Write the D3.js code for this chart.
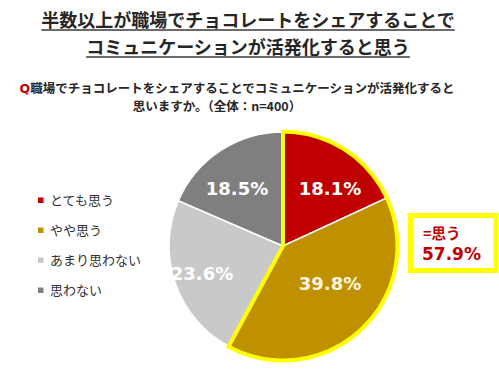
<!DOCTYPE html>
<html><head><meta charset="utf-8">
<script src="https://cdn.jsdelivr.net/npm/d3@7"></script>
<style>
html,body{margin:0;padding:0;background:#fff;}
svg{display:block;}
</style>
</head><body>
<svg id="c" width="499" height="380"></svg>
<script>
const titleLines = ["半数以上が職場でチョコレートをシェアすることで", "コミュニケーションが活発化すると思う"];
const questionLines = ["職場でチョコレートをシェアすることでコミュニケーションが活発化すると", "思いますか。（全体：n=400）"];
const categories = ["とても思う", "やや思う", "あまり思わない", "思わない"];
const values = [18.1, 39.8, 23.6, 18.5];
const colors = ["#c00000", "#bf9000", "#c9c9c9", "#7f7f7f"];
const labelColors = ["#ffffff", "#fff5e0", "#ffffff", "#ffffff"];
const highlightLabel = "=思う";
const highlightValue = "57.9%";

const svg = d3.select("#c");
const jp = "'Noto Sans CJK JP', 'Noto Sans', sans-serif";
const num = "'DejaVu Sans', Verdana, sans-serif";

// Title
const tBase = [27, 54];
titleLines.forEach((t, i) => {
  const tx = svg.append("text").attr("x", 248).attr("y", tBase[i])
    .attr("text-anchor", "middle").attr("font-family", jp).attr("font-weight", 700)
    .attr("font-size", 18).attr("fill", "#262626").text(t);
  const w = tx.node().getComputedTextLength();
  svg.append("line").attr("x1", 248 - w / 2).attr("x2", 248 + w / 2)
    .attr("y1", tBase[i] + 3).attr("y2", tBase[i] + 3)
    .attr("stroke", "#3a3a3a").attr("stroke-width", 1.6);
});

// Question
const q1 = svg.append("text").attr("x", 237).attr("y", 93).attr("text-anchor", "middle")
  .attr("font-family", jp).attr("font-weight", 700).attr("font-size", 12.5).attr("fill", "#262626");
q1.append("tspan").attr("fill", "#c00000").attr("font-family", num).text("Q");
q1.append("tspan").text(questionLines[0]);
svg.append("text").attr("x", 217).attr("y", 111).attr("text-anchor", "middle")
  .attr("font-family", jp).attr("font-weight", 700).attr("font-size", 12.5).attr("fill", "#262626")
  .text(questionLines[1]);

// Legend
const legY = d3.scalePoint().domain(categories).range([200, 290]);
const leg = svg.append("g");
categories.forEach((c, i) => {
  leg.append("rect").attr("x", 38).attr("y", legY(c) - 2.5).attr("width", 5.5).attr("height", 5.5).attr("fill", colors[i]);
  leg.append("text").attr("x", 50).attr("y", legY(c) + 5).attr("font-family", jp)
    .attr("font-size", 13).attr("fill", "#333").text(c);
});

// Pie
const cx = 283, cy = 246, r = 114;
const g = svg.append("g").attr("transform", `translate(${cx},${cy})`);
const pie = d3.pie().sort(null).value(d => d)(values);
const arc = d3.arc().innerRadius(0).outerRadius(r);
g.selectAll("path.slice").data(pie).enter().append("path").attr("class", "slice")
  .attr("d", arc).attr("fill", (d, i) => colors[i]).attr("stroke", "#fff").attr("stroke-width", 1.5);

// highlight outline around first two slices
const hiEnd = pie[1].endAngle;
g.append("path").attr("d", d3.arc().innerRadius(0).outerRadius(r + 0.5)({startAngle: 0, endAngle: hiEnd}))
  .attr("fill", "none").attr("stroke", "#ffff00").attr("stroke-width", 4).attr("stroke-linejoin", "miter");

// slice labels
const lblPos = [[47, -58], [47, 37], [-81, 27], [-46, -58]];
g.selectAll("text.lbl").data(pie).enter().append("text").attr("class", "lbl")
  .attr("x", (d, i) => lblPos[i][0]).attr("y", (d, i) => lblPos[i][1] + 6.5)
  .attr("text-anchor", "middle").attr("font-family", num).attr("font-weight", 700)
  .attr("font-size", 18).attr("fill", (d, i) => labelColors[i])
  .text(d => d.data.toFixed(1) + "%");

// Highlight box
svg.append("rect").attr("x", 410.5).attr("y", 215.5).attr("width", 85.5).attr("height", 55)
  .attr("fill", "#fff").attr("stroke", "#ffff00").attr("stroke-width", 5);
svg.append("text").attr("x", 423).attr("y", 239).attr("font-family", jp).attr("font-weight", 700)
  .attr("font-size", 14.5).attr("fill", "#c00000").text(highlightLabel);
svg.append("text").attr("x", 422).attr("y", 260).attr("font-family", num).attr("font-weight", 700)
  .attr("font-size", 17).attr("fill", "#c00000").text(highlightValue);
</script>
</body></html>
